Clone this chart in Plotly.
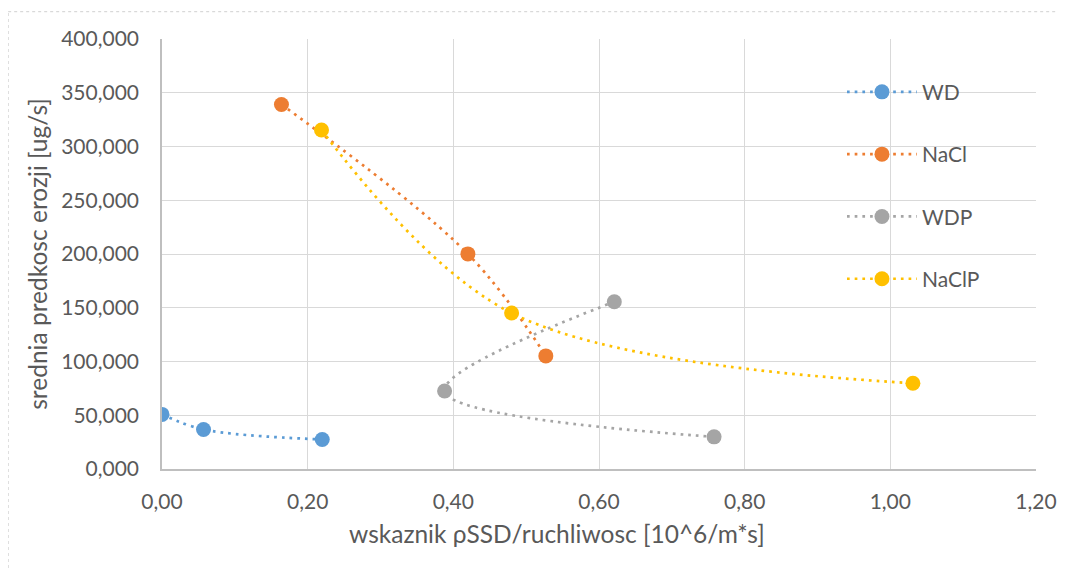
import plotly.graph_objects as go

# ---- data ----
series_names = ["WD", "NaCl", "WDP", "NaClP"]
wd_x = [0.000, 0.057, 0.220]
wd_y = [50.8, 36.8, 27.5]
nacl_x = [0.164, 0.420, 0.527]
nacl_y = [339.1, 200.1, 105.2]
wdp_x = [0.758, 0.388, 0.621]
wdp_y = [29.9, 72.6, 155.6]
naclp_x = [0.219, 0.480, 1.031]
naclp_y = [315.4, 145.1, 79.8]
colors = ["#5B9BD5", "#ED7D31", "#A5A5A5", "#FFC000"]

x_ticks = [0.0, 0.2, 0.4, 0.6, 0.8, 1.0, 1.2]
y_ticks = [0, 50, 100, 150, 200, 250, 300, 350, 400]

x_title = "wskaznik ρSSD/ruchliwosc [10^6/m*s]"
y_title = "srednia predkosc erozji [ug/s]"

FONT = "Lato, Calibri, sans-serif"
TXT = "#595959"

fig = go.Figure()
xs = [wd_x, nacl_x, wdp_x, naclp_x]
ys = [wd_y, nacl_y, wdp_y, naclp_y]
for name, x, y, c in zip(series_names, xs, ys, colors):
    fig.add_trace(go.Scatter(
        x=x, y=y, name=name, legendgroup=name,
        mode="lines+markers",
        line=dict(color=c, width=2.7, dash="2.7px,5px", shape="spline", smoothing=1),
        marker=dict(color=c, size=15),
    ))

# page body has an 8px margin: figure is 1050x560, placed at (8,8)
fig.update_layout(
    width=1050, height=560,
    margin=dict(l=154, r=22, t=31, b=99, autoexpand=False),
    paper_bgcolor="white", plot_bgcolor="white",
    separators=", ",
    font=dict(family=FONT, size=21, color=TXT),
    legend=dict(
        x=0.778, y=0.924, xanchor="left", yanchor="top",
        bgcolor="rgba(0,0,0,0)", font=dict(size=21, color=TXT),
        tracegroupgap=32, itemwidth=70,
    ),
    xaxis=dict(
        range=[0, 1.2], tickvals=x_ticks, tickformat=".2f",
        showgrid=True, gridcolor="#d9d9d9", gridwidth=1.3,
        showline=True, linecolor="#bfbfbf", linewidth=1.5,
        zeroline=False, ticks="", ticklabelstandoff=13, automargin=False,
        tickfont=dict(size=21, color=TXT),
    ),
    yaxis=dict(
        range=[0, 400], tickvals=y_ticks, tickformat=".3f",
        showgrid=True, gridcolor="#d9d9d9", gridwidth=1.3,
        showline=True, linecolor="#bfbfbf", linewidth=1.5,
        zeroline=False, ticks="", ticklabelstandoff=17, automargin=False,
        tickfont=dict(size=21, color=TXT),
        title=dict(text=y_title, standoff=7, font=dict(size=24.5, color=TXT)),
    ),
    annotations=[
        dict(text=x_title, xref="paper", yref="paper", x=0.452, y=-0.149,
             xanchor="center", yanchor="middle", showarrow=False,
             font=dict(size=24.5, color=TXT)),
    ],
    shapes=[
        dict(type="line", xref="paper", yref="paper", x0=-0.176, x1=1.1, y0=1.0635, y1=1.0635,
             line=dict(color="#d0d0d0", width=1, dash="dot")),
        dict(type="line", xref="paper", yref="paper", x0=-0.176, x1=-0.176, y0=-0.3, y1=1.0635,
             line=dict(color="#d0d0d0", width=1, dash="dot")),
    ],
)

fig.write_html("out.html")
